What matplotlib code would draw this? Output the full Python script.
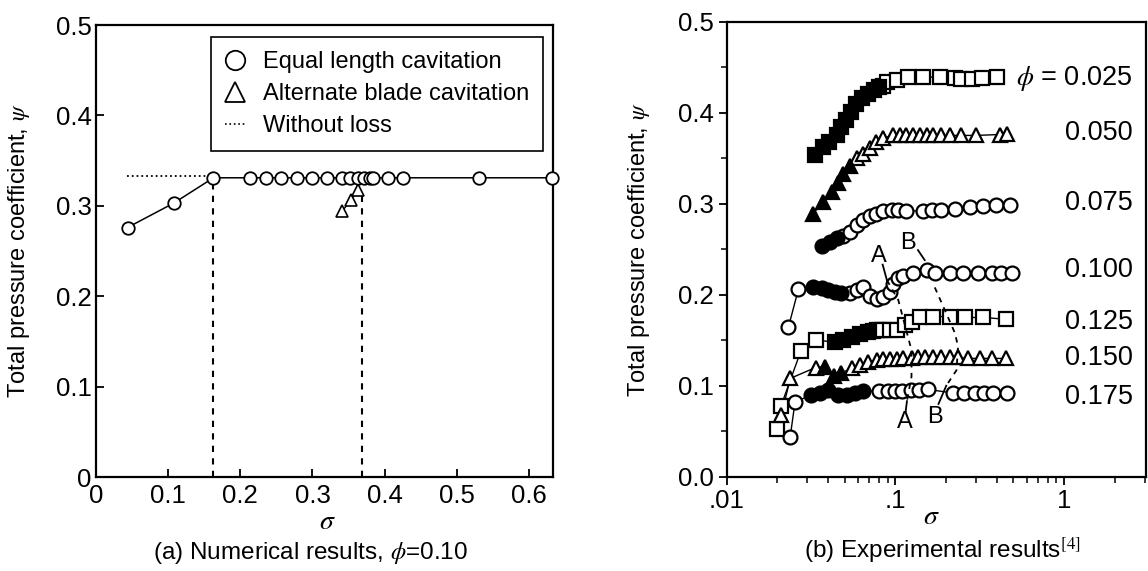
import numpy as np
import matplotlib
matplotlib.use('Agg')
import matplotlib.pyplot as plt
from matplotlib.lines import Line2D
from matplotlib.ticker import LogLocator, NullFormatter, MultipleLocator

plt.rcParams['font.family'] = ['Liberation Sans', 'DejaVu Sans']
plt.rcParams['mathtext.fontset'] = 'stix'

# ---- (a) numerical results, phi = 0.10 ----
sig_equal = [0.044, 0.108, 0.163, 0.214, 0.236, 0.256, 0.278, 0.299, 0.320, 0.341,
             0.352, 0.363, 0.372, 0.379, 0.384, 0.405, 0.426, 0.530, 0.632]
psi_equal = [0.276, 0.303, 0.331, 0.331, 0.331, 0.331, 0.331, 0.331, 0.331, 0.331,
             0.331, 0.331, 0.331, 0.331, 0.331, 0.331, 0.331, 0.331, 0.331]
sig_alt = [0.341, 0.353, 0.363]
psi_alt = [0.294, 0.306, 0.317]
sig_noloss = [0.043, 0.163]
psi_noloss = [0.333, 0.333]
sig_limits = [0.163, 0.369]
psi_limits_top = [0.330, 0.316]

# ---- (b) experimental results ----
# phi = 0.025 (squares)
sig_025_closed = [0.0333, 0.0372, 0.0405, 0.0448, 0.0478, 0.0510, 0.0545, 0.0580, 0.0630, 0.0690, 0.0750, 0.0800]
psi_025_closed = [0.353, 0.362, 0.368, 0.376, 0.384, 0.392, 0.401, 0.410, 0.416, 0.421, 0.425, 0.428]
sig_025_open = [0.0845, 0.0886, 0.1016, 0.119, 0.146, 0.183, 0.225, 0.246, 0.283, 0.324, 0.400]
psi_025_open = [0.429, 0.434, 0.436, 0.439, 0.439, 0.439, 0.438, 0.437, 0.437, 0.438, 0.439]
# phi = 0.050 (triangles)
sig_050_closed = [0.0325, 0.0373, 0.0418, 0.0455, 0.0490, 0.0537]
psi_050_closed = [0.289, 0.302, 0.313, 0.323, 0.333, 0.341]
sig_050_open = [0.0589, 0.0644, 0.0705, 0.0772, 0.0845, 0.0968, 0.106, 0.116, 0.127, 0.140,
                0.153, 0.168, 0.187, 0.210, 0.246, 0.302, 0.416, 0.460]
psi_050_open = [0.350, 0.355, 0.361, 0.368, 0.372, 0.375, 0.375, 0.375, 0.375, 0.375,
                0.375, 0.375, 0.375, 0.375, 0.375, 0.375, 0.376, 0.377]
# phi = 0.075 (circles)
sig_075_closed = [0.0365, 0.0409, 0.0448]
psi_075_closed = [0.253, 0.258, 0.262]
sig_075_open = [0.049, 0.0537, 0.0589, 0.0644, 0.0705, 0.077, 0.0845, 0.0948, 0.104, 0.116,
                0.146, 0.164, 0.187, 0.225, 0.276, 0.331, 0.397, 0.480]
psi_075_open = [0.264, 0.269, 0.277, 0.282, 0.286, 0.289, 0.292, 0.293, 0.293, 0.292,
                0.292, 0.293, 0.293, 0.294, 0.296, 0.297, 0.298, 0.299]
# phi = 0.100 (circles)
sig_100_closed = [0.0325, 0.0365, 0.0400, 0.0438, 0.0475]
psi_100_closed = [0.209, 0.207, 0.205, 0.203, 0.2015]
sig_100_open = [0.0232, 0.0266, 0.0537, 0.0589, 0.0640, 0.0705, 0.0773, 0.0845, 0.0924, 0.0968,
                0.104, 0.111, 0.127, 0.153, 0.171, 0.210, 0.252, 0.309, 0.371, 0.425, 0.490]
psi_100_open = [0.164, 0.206, 0.2015, 0.205, 0.208, 0.199, 0.195, 0.197, 0.203, 0.212,
                0.218, 0.221, 0.224, 0.227, 0.224, 0.224, 0.224, 0.224, 0.224, 0.224, 0.224]
# phi = 0.125 (squares)
sig_125_closed = [0.0438, 0.0490, 0.0550, 0.0615, 0.0689]
psi_125_closed = [0.148, 0.150, 0.154, 0.157, 0.159]
sig_125_open = [0.0200, 0.0210, 0.0275, 0.0338, 0.0740, 0.0780, 0.0815, 0.0845, 0.0926, 0.1016,
                0.1137, 0.1246, 0.1395, 0.167, 0.210, 0.258, 0.331, 0.450]
psi_125_open = [0.052, 0.078, 0.138, 0.150, 0.160, 0.161, 0.161, 0.161, 0.161, 0.161,
                0.167, 0.170, 0.176, 0.176, 0.176, 0.175, 0.175, 0.173]
# phi = 0.150 (triangles)
sig_150_closed = [0.0382, 0.0435, 0.0475]
psi_150_closed = [0.121, 0.111, 0.114]
sig_150_open = [0.0211, 0.0238, 0.0336, 0.055, 0.0615, 0.0689, 0.0773, 0.0845, 0.0927, 0.1016,
                0.111, 0.125, 0.136, 0.149, 0.167, 0.187, 0.210, 0.235, 0.270, 0.316, 0.371, 0.450]
psi_150_open = [0.068, 0.108, 0.120, 0.119, 0.123, 0.126, 0.128, 0.129, 0.129, 0.129,
                0.130, 0.130, 0.131, 0.131, 0.131, 0.131, 0.131, 0.131, 0.130, 0.130, 0.130, 0.130]
# phi = 0.175 (circles)
sig_175_closed = [0.0318, 0.0356, 0.0400, 0.0457, 0.0513, 0.0575, 0.0644]
psi_175_closed = [0.090, 0.092, 0.095, 0.090, 0.090, 0.092, 0.094]
sig_175_open = [0.0238, 0.0254, 0.0800, 0.0900, 0.1000, 0.1100, 0.1240, 0.1370, 0.1550,
                0.2190, 0.2550, 0.2950, 0.3340, 0.3780, 0.4600]
psi_175_open = [0.044, 0.082, 0.094, 0.094, 0.094, 0.094, 0.095, 0.095, 0.096,
                0.092, 0.092, 0.092, 0.092, 0.092, 0.092]

phi_labels = [r'$\phi$ = 0.025', '0.050', '0.075', '0.100', '0.125', '0.150', '0.175']
phi_label_psi = [0.438, 0.378, 0.301, 0.227, 0.170, 0.130, 0.088]
phi_label_sig = 2.55

# A / B guide lines
line_A_sig = [0.089, 0.104, 0.1245, 0.1245, 0.117]
line_A_psi = [0.216, 0.194, 0.139, 0.110, 0.083]
line_B_sig = [0.171, 0.192, 0.225, 0.235, 0.230, 0.205]
line_B_psi = [0.208, 0.187, 0.158, 0.143, 0.117, 0.103]
lead_A_top = ([0.0840, 0.0890], [0.233, 0.216])
lead_B_top = ([0.136, 0.149], [0.249, 0.238])
lead_A_bot = ([0.117, 0.115], [0.083, 0.072])
lead_B_bot = ([0.200, 0.180], [0.100, 0.080])
label_pos = [('A', 0.0797, 0.242), ('B', 0.118, 0.2565), ('A', 0.113, 0.060), ('B', 0.171, 0.066)]

fig = plt.figure(figsize=(11.48, 5.71), dpi=100)
ax1 = fig.add_axes([0.0834, 0.1646, 0.3983, 0.7916])
ax2 = fig.add_axes([0.633, 0.1651, 0.3652, 0.797])

# ---- left panel ----
ax1.plot(sig_noloss, psi_noloss, color='black', ls=':', lw=1.3, zorder=2)
for x, top in zip(sig_limits, psi_limits_top):
    ax1.plot([x, x], [0, top], color='black', ls='--', lw=1.5, dashes=(3, 3), zorder=2)
ax1.plot(sig_equal, psi_equal, color='black', lw=1.1, marker='o', ms=9, mfc='white',
         mec='black', mew=1.3, clip_on=False, zorder=4)
ax1.plot(sig_alt, psi_alt, color='black', lw=1.0, marker='^', ms=9, mfc='white',
         mec='black', mew=1.2, zorder=3)

ax1.set_xlim(0, 0.633)
ax1.set_ylim(0, 0.5)
ax1.set_xticks([0, 0.1, 0.2, 0.3, 0.4, 0.5, 0.6])
ax1.set_xticklabels(['0', '0.1', '0.2', '0.3', '0.4', '0.5', '0.6'])
ax1.set_yticks([0, 0.1, 0.2, 0.3, 0.4, 0.5])
ax1.set_yticklabels(['0', '0.1', '0.2', '0.3', '0.4', '0.5'])
ax1.tick_params(direction='in', length=6, width=1.3, labelsize=18.5)
ax1.tick_params(axis='y', pad=3)
ax1.tick_params(axis='x', pad=5)
for s in ax1.spines.values():
    s.set_linewidth(1.6)
ax1.set_ylabel(r'Total pressure coefficient, $\psi$', fontsize=17)
ax1.yaxis.set_label_coords(-0.139, 0.5)

handles = [
    Line2D([], [], ls='none', marker='o', ms=14, mfc='white', mec='black', mew=1.3),
    Line2D([], [], ls='none', marker='^', ms=14, mfc='white', mec='black', mew=1.3),
    Line2D([], [], ls=':', color='black', lw=1.2),
]
leg = ax1.legend(handles, ['Equal length cavitation', 'Alternate blade cavitation', 'Without loss'],
                 loc='upper right', bbox_to_anchor=(0.978, 0.973), borderaxespad=0,
                 fontsize=17, handlelength=0.9, handletextpad=0.7, labelspacing=0.42,
                 borderpad=0.6, fancybox=False, framealpha=1, edgecolor='black')
leg.get_frame().set_linewidth(1.2)

# ---- right panel ----
series = [
    (sig_025_closed, psi_025_closed, sig_025_open, psi_025_open, 's', 9.5),
    (sig_050_closed, psi_050_closed, sig_050_open, psi_050_open, '^', 10.5),
    (sig_075_closed, psi_075_closed, sig_075_open, psi_075_open, 'o', 10),
    (sig_100_closed, psi_100_closed, sig_100_open, psi_100_open, 'o', 10),
    (sig_125_closed, psi_125_closed, sig_125_open, psi_125_open, 's', 9.5),
    (sig_150_closed, psi_150_closed, sig_150_open, psi_150_open, '^', 10.5),
    (sig_175_closed, psi_175_closed, sig_175_open, psi_175_open, 'o', 10),
]
for sc, pc, so, po, mk, ms in series:
    s_all = np.array(sc + so)
    p_all = np.array(pc + po)
    order = np.argsort(s_all)
    ax2.plot(s_all[order], p_all[order], color='black', lw=1.0, zorder=2)
    ax2.plot(so, po, ls='none', marker=mk, ms=ms, mfc='white', mec='black', mew=1.6, zorder=3)
    ax2.plot(sc, pc, ls='none', marker=mk, ms=ms, mfc='black', mec='black', mew=1.6, zorder=4)

ax2.plot(line_A_sig, line_A_psi, color='black', ls='--', lw=1.3, dashes=(3, 3), zorder=5)
ax2.plot(line_B_sig, line_B_psi, color='black', ls='--', lw=1.3, dashes=(3, 3), zorder=5)
for lx, ly in [lead_A_top, lead_B_top, lead_A_bot, lead_B_bot]:
    ax2.plot(lx, ly, color='black', lw=1.3, zorder=5)
for t, x, y in label_pos:
    ax2.text(x, y, t, fontsize=17, ha='center', va='center', zorder=6)

for lab, y in zip(phi_labels, phi_label_psi):
    ax2.text(phi_label_sig, y, lab, fontsize=19.5, ha='right', va='center')

ax2.set_xscale('log')
ax2.set_xlim(0.01, 3.05)
ax2.set_ylim(0, 0.5)
ax2.set_xticks([0.01, 0.1, 1])
ax2.set_xticklabels(['.01', '.1', '1'])
ax2.xaxis.set_minor_locator(LogLocator(base=10, subs=np.arange(2, 10)))
ax2.xaxis.set_minor_formatter(NullFormatter())
ax2.set_yticks([0, 0.1, 0.2, 0.3, 0.4, 0.5])
ax2.set_yticklabels(['0.0', '0.1', '0.2', '0.3', '0.4', '0.5'])
ax2.yaxis.set_minor_locator(MultipleLocator(0.05))
ax2.tick_params(which='major', direction='out', length=6, width=1.3, labelsize=18.5, pad=3)
ax2.tick_params(which='minor', direction='out', length=4, width=1.1)
for s in ax2.spines.values():
    s.set_linewidth(1.6)
ax2.set_ylabel(r'Total pressure coefficient, $\psi$', fontsize=17)
ax2.yaxis.set_label_coords(-0.178, 0.5)

# axis titles and captions
fig.text(0.2848, 0.0858, r'$\sigma$', fontsize=20, ha='center', va='center')
fig.text(0.270, 0.0315, r'(a) Numerical results, $\phi$=0.10', fontsize=17.5, ha='center', va='center')
fig.text(0.811, 0.094, r'$\sigma$', fontsize=20, ha='center', va='center')
fig.text(0.8208, 0.036, r'(b) Experimental results$^{[4]}$', fontsize=17.5, ha='center', va='center')

fig.savefig('out.png', dpi=100)
